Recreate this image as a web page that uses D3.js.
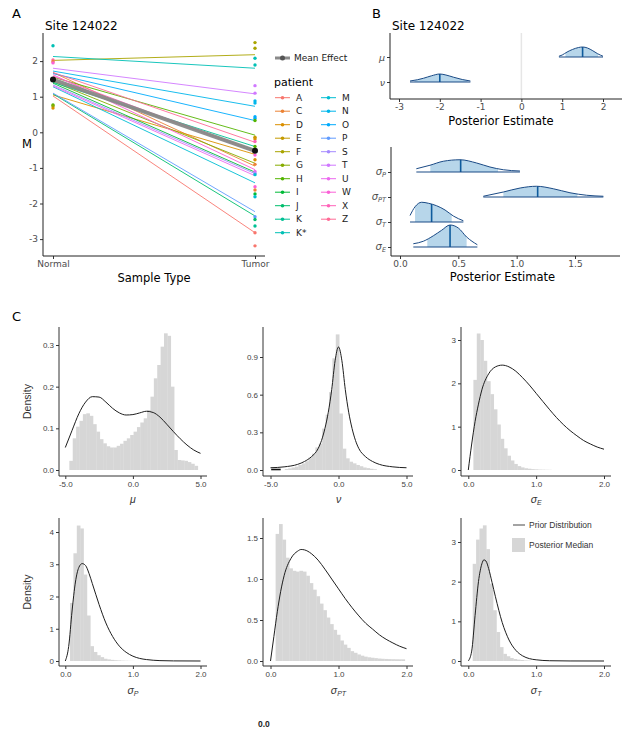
<!DOCTYPE html>
<html>
<head>
<meta charset="utf-8">
<script src="https://cdn.jsdelivr.net/npm/d3@7"></script>
<style>
body{margin:0;background:#fff;}
svg{display:block;}
text{font-family:"DejaVu Sans",Verdana,sans-serif;}
</style>
</head>
<body>
<svg id="fig" width="624" height="730"></svg>
<script>
// ---- Panel A data ----
const patients = ["A","C","D","E","F","G","H","I","J","K","K*","M","N","O","P","S","T","U","W","X","Z"];
const sampleTypes = ["Normal","Tumor"];
const fitNormal = [1.02,1.68,1.05,1.45,2.02,1.42,1.55,1.38,1.08,1.40,2.13,1.28,1.72,1.65,1.10,1.33,1.80,1.30,1.62,1.58,1.68];
const fitTumor  = [-2.82,-0.95,-0.62,-0.50,2.18,-0.87,-0.08,-1.12,-2.35,-0.40,1.80,-1.42,0.73,0.33,-2.23,-1.16,1.08,-1.22,-1.05,-0.55,-0.28];
const meanEffect = [1.48,-0.52];
const obsNormal = [["K*",2.43],["Z",2.03],["C",1.98],["W",1.95],["H",0.77],["G",0.74],["D",0.68]];
const obsTumor = [["F",2.52],["F",2.36],["K*",2.08],["K*",1.89],["T",1.31],["T",1.10],["N",0.88],["N",0.82],
  ["O",0.44],["O",0.39],["H",0.33],["E",-0.14],["D",-0.19],["X",-0.26],["H",-0.40],["W",-0.64],["D",-0.77],
  ["C",-0.90],["U",-1.10],["S",-1.15],["M",-1.19],["W",-1.53],["C",-1.62],["I",-1.73],["M",-1.81],
  ["P",-2.37],["J",-2.45],["K",-2.63],["A",-2.82],["A",-3.19]];
const aTicks = [-3,-2,-1,0,1,2];

// ---- Panel B data: [estimate, relative height] ----
const siteParams = ["μ","ν"];
const ridgeMu = [[0.92,0.03],[1.0,0.08],[1.12,0.2],[1.25,0.3],[1.4,0.38],[1.5,0.4],[1.62,0.36],[1.75,0.25],[1.87,0.13],[2.0,0.03]];
const ridgeNu = [[-2.73,0.04],[-2.55,0.09],[-2.4,0.15],[-2.2,0.25],[-2.0,0.32],[-1.85,0.28],[-1.66,0.19],[-1.45,0.1],[-1.25,0.04]];
const sigmaParams = ["P","PT","T","E"];
const ridgeSigP  = [[0.14,0.13],[0.257,0.27],[0.371,0.43],[0.514,0.49],[0.657,0.36],[0.771,0.2],[0.886,0.09],[1.028,0.04]];
const ridgeSigPT = [[0.714,0.03],[0.886,0.2],[1.03,0.36],[1.17,0.43],[1.314,0.33],[1.457,0.17],[1.6,0.07],[1.743,0.03]];
const ridgeSigT  = [[0.086,0.26],[0.129,0.61],[0.186,0.79],[0.243,0.75],[0.314,0.65],[0.386,0.48],[0.457,0.24],[0.543,0.05]];
const ridgeSigE  = [[0.114,0.13],[0.2,0.23],[0.286,0.45],[0.357,0.67],[0.429,0.88],[0.5,0.76],[0.571,0.4],[0.663,0.09]];
const ridgeIntervals = {mu:[1.08,1.88], nu:[-2.62,-1.32], P:[0.26,0.84], PT:[0.886,1.52], T:[0.129,0.443], E:[0.234,0.571]};
const ridgeMedians = {mu:1.5, nu:-2.0, P:0.52, PT:1.18, T:0.271, E:0.429};
const bTopTicks = [-3,-2,-1,0,1,2];
const bBotTicks = [0,0.5,1,1.5];

// ---- Panel C data ----
const muHistStart = -4.7, muHistWidth = 0.25;
const muHist = [0.022,0.076,0.104,0.118,0.134,0.136,0.13,0.11,0.092,0.074,0.064,0.057,0.054,0.054,0.058,0.063,0.07,0.076,0.084,0.092,0.103,0.114,0.124,0.144,0.176,0.22,0.252,0.296,0.328,0.322,0.2,0.048,0.024,0.023,0.022,0.019,0.015,0.01];
const muPrior = [[-5,0.054],[-4.5,0.095],[-4,0.135],[-3.5,0.163],[-3,0.176],[-2.5,0.175],[-2,0.163],[-1.5,0.148],[-1,0.137],[-0.5,0.132],[0,0.133],[0.5,0.137],[1,0.141],[1.5,0.138],[2,0.127],[2.5,0.11],[3,0.092],[3.5,0.075],[4,0.06],[4.5,0.048],[5,0.04]];
const nuHistStart = -3.95, nuHistWidth = 0.25;
const nuHist = [0.008,0.013,0.02,0.027,0.04,0.053,0.07,0.1,0.13,0.18,0.21,0.33,0.44,0.62,0.89,1.08,0.45,0.17,0.093,0.066,0.053,0.04,0.03,0.02,0.015,0.01,0.006];
const nuPrior = [[-5,0.018],[-4,0.025],[-3,0.045],[-2.5,0.068],[-2,0.105],[-1.5,0.17],[-1.25,0.235],[-1,0.33],[-0.75,0.46],[-0.5,0.64],[-0.25,0.87],[0,0.98],[0.25,0.87],[0.5,0.64],[0.75,0.46],[1,0.33],[1.25,0.235],[1.5,0.17],[2,0.105],[2.5,0.068],[3,0.045],[4,0.025],[5,0.018]];
const nuDash = [[-4.95,0.004],[-4.25,0.004]];
const sigEHistStart = 0.075, sigEHistWidth = 0.05;
const sigEHist = [2.08,3.15,3.0,2.52,2.05,1.75,1.4,1.05,0.72,0.5,0.33,0.22,0.14,0.09,0.06,0.04,0.03,0.02,0.015,0.01,0.008,0.006,0.004];
const sigEPrior = [[0,0],[0.05,0.6],[0.1,1.12],[0.15,1.52],[0.2,1.85],[0.3,2.22],[0.4,2.38],[0.5,2.42],[0.6,2.38],[0.7,2.28],[0.8,2.13],[0.9,1.96],[1.0,1.77],[1.1,1.58],[1.2,1.39],[1.3,1.21],[1.4,1.05],[1.5,0.91],[1.6,0.79],[1.7,0.68],[1.8,0.6],[1.9,0.53],[2.0,0.48]];
const sigPHistStart = 0.07, sigPHistWidth = 0.05;
const sigPHist = [1.8,3.34,4.2,4.11,2.68,1.41,0.46,0.28,0.18,0.12,0.07,0.05,0.035,0.025,0.018,0.012,0.008,0.005,0.003];
const sigPPrior = [[0,0],[0.05,0.45],[0.1,1.55],[0.15,2.45],[0.2,2.9],[0.25,3.02],[0.3,2.96],[0.35,2.72],[0.4,2.4],[0.5,1.75],[0.6,1.18],[0.7,0.76],[0.8,0.46],[0.9,0.27],[1.0,0.15],[1.1,0.08],[1.2,0.045],[1.4,0.012],[1.6,0.003],[2.0,0]];
const sigPTHistStart = 0.075, sigPTHistWidth = 0.05;
const sigPTHist = [1.55,1.67,1.48,1.26,1.13,1.1,1.09,1.1,1.09,1.04,0.95,0.87,0.79,0.7,0.62,0.53,0.45,0.38,0.32,0.25,0.2,0.16,0.12,0.1,0.08,0.065,0.053,0.045,0.04,0.035,0.03,0.027,0.025,0.023,0.022,0.021,0.02,0.02];
const sigPTPrior = [[0,0],[0.05,0.3],[0.1,0.6],[0.15,0.85],[0.2,1.04],[0.3,1.25],[0.4,1.34],[0.45,1.36],[0.5,1.355],[0.6,1.31],[0.7,1.23],[0.8,1.12],[0.9,1.0],[1.0,0.88],[1.1,0.76],[1.2,0.65],[1.3,0.55],[1.4,0.46],[1.5,0.39],[1.6,0.32],[1.7,0.265],[1.8,0.22],[1.9,0.18],[2.0,0.15]];
const sigTHistStart = 0.065, sigTHistWidth = 0.05;
const sigTHist = [2.45,3.06,3.34,3.42,2.82,1.95,1.28,0.73,0.35,0.18,0.12,0.075,0.05,0.035,0.025,0.015,0.01];
const sigTPrior = [[0,0],[0.05,0.25],[0.1,1.15],[0.15,2.0],[0.2,2.45],[0.23,2.55],[0.26,2.52],[0.3,2.33],[0.35,1.98],[0.4,1.62],[0.5,0.97],[0.6,0.53],[0.7,0.27],[0.8,0.13],[0.9,0.06],[1.0,0.03],[1.2,0.007],[1.5,0.001],[2.0,0]];

// ggplot hue_pal colours (polarLUV -> sRGB)
function hueColor(i, n){
  const h = (15 + 360*i/n) * Math.PI/180, L = 65, C = 100;
  const U = C*Math.cos(h), V = C*Math.sin(h);
  const Xn = 95.047, Yn = 100, Zn = 108.883;
  const Y = Yn * Math.pow((L+16)/116, 3);
  const den = Xn + 15*Yn + 3*Zn;
  const up = U/(13*L) + 4*Xn/den, vp = V/(13*L) + 9*Yn/den;
  const X = Y*9*up/(4*vp), Z = Y*(12 - 3*up - 20*vp)/(4*vp);
  const x = X/100, y = Y/100, z = Z/100;
  const r = 3.240479*x - 1.537150*y - 0.498535*z;
  const g = -0.969256*x + 1.875992*y + 0.041556*z;
  const b = 0.055648*x - 0.204043*y + 1.057311*z;
  const gam = v => { v = Math.max(0, Math.min(1, v)); return v <= 0.0031308 ? 12.92*v : 1.055*Math.pow(v,1/2.4) - 0.055; };
  return d3.rgb(gam(r)*255, gam(g)*255, gam(b)*255).formatHex();
}
const pColor = d3.scaleOrdinal().domain(patients).range(patients.map((p,i) => hueColor(i, patients.length)));

const svg = d3.select("#fig");
const fmtNum = d => String(d);

function styleTicks(sel, size, family, fill){
  sel.select(".domain").remove();
  sel.selectAll(".tick line").attr("stroke","#333");
  sel.selectAll(".tick text").attr("fill", fill || "#4d4d4d").style("font-size", size).style("font-family", family || null);
  sel.attr("font-family", null).attr("font-size", null);
}
function axisLine(g, x1, y1, x2, y2, col){
  g.append("line").attr("x1",x1).attr("y1",y1).attr("x2",x2).attr("y2",y2)
    .attr("stroke", col || "#222").attr("stroke-width",1);
}

// =================== Panel A ===================
const gA = svg.append("g");
gA.append("text").attr("x",12).attr("y",18).style("font-size","13px").text("A");
gA.append("text").attr("x",45).attr("y",30).style("font-size","12px").text("Site 124022");

const xA = d3.scalePoint().domain(sampleTypes).range([53,255]);
const yA = d3.scaleLinear().domain([-3,2]).range([239.1,61.1]);

gA.append("g").attr("transform","translate(43,0)")
  .call(d3.axisLeft(yA).tickValues(aTicks).tickSize(3).tickPadding(2).tickFormat(fmtNum))
  .call(s => styleTicks(s,"9px"));
gA.append("g").attr("transform","translate(0,256)")
  .call(d3.axisBottom(xA).tickSize(3).tickPadding(2))
  .call(s => styleTicks(s,"9px"));
axisLine(gA,43,33,43,256);
axisLine(gA,43,256,265,256);
gA.append("text").attr("x",154).attr("y",282).attr("text-anchor","middle").style("font-size","11.5px").text("Sample Type");
gA.append("text").attr("x",22).attr("y",148).style("font-size","11.5px").text("M");

patients.forEach((p,i) => {
  gA.append("line")
    .attr("x1", xA("Normal")).attr("y1", yA(fitNormal[i]))
    .attr("x2", xA("Tumor")).attr("y2", yA(fitTumor[i]))
    .attr("stroke", pColor(p)).attr("stroke-width", 0.9);
});
gA.append("line")
  .attr("x1", xA("Normal")).attr("y1", yA(meanEffect[0]))
  .attr("x2", xA("Tumor")).attr("y2", yA(meanEffect[1]))
  .attr("stroke", "#8a8a8a").attr("stroke-width", 4).attr("opacity",0.95);
gA.selectAll(".pn").data(obsNormal).join("circle")
  .attr("cx", xA("Normal")).attr("cy", d => yA(d[1])).attr("r",1.7).attr("fill", d => pColor(d[0]));
gA.selectAll(".pt").data(obsTumor).join("circle")
  .attr("cx", xA("Tumor")).attr("cy", d => yA(d[1])).attr("r",1.7).attr("fill", d => pColor(d[0]));
gA.selectAll(".pm").data(meanEffect).join("circle")
  .attr("cx", (d,i) => xA(sampleTypes[i])).attr("cy", d => yA(d)).attr("r",3).attr("fill","#111");

// legend A
const lg = gA.append("g");
lg.append("line").attr("x1",275).attr("x2",290).attr("y1",58).attr("y2",58).attr("stroke","#8a8a8a").attr("stroke-width",3);
lg.append("circle").attr("cx",282.5).attr("cy",58).attr("r",2.5).attr("fill","#555");
lg.append("text").attr("x",294).attr("y",58).attr("dy","0.35em").style("font-size","9px").attr("fill","#222").text("Mean Effect");
lg.append("text").attr("x",274).attr("y",86).style("font-size","11px").text("patient");
patients.forEach((p,i) => {
  const col = i < 11 ? 0 : 1, row = i % 11;
  const kx = col ? 321 : 275, ky = 97.7 + row*13.5;
  lg.append("line").attr("x1",kx).attr("x2",kx+15).attr("y1",ky).attr("y2",ky).attr("stroke",pColor(p)).attr("stroke-width",1);
  lg.append("circle").attr("cx",kx+7.5).attr("cy",ky).attr("r",1.8).attr("fill",pColor(p));
  lg.append("text").attr("x",kx+21).attr("y",ky).attr("dy","0.35em").style("font-size","9px").attr("fill","#222").text(p);
});

// =================== Panel B ===================
const gB = svg.append("g");
gB.append("text").attr("x",372).attr("y",18).style("font-size","13px").text("B");
gB.append("text").attr("x",392).attr("y",30).style("font-size","12px").text("Site 124022");

const ridgeFill = "#b7d6ea", ridgeLine = "#1a4a85", ridgeMed = "#0e5b9c";
let clipId = 0;
function drawRidge(g, x, baseY, bandH, pts, interval, median){
  const id = "rclip" + (clipId++);
  const area = d3.area().x(d => x(d[0])).y0(baseY).y1(d => baseY - d[1]*bandH).curve(d3.curveMonotoneX);
  const line = d3.line().x(d => x(d[0])).y(d => baseY - d[1]*bandH).curve(d3.curveMonotoneX);
  g.append("clipPath").attr("id", id).append("path").attr("d", area(pts));
  g.append("rect").attr("x", x(interval[0])).attr("width", x(interval[1]) - x(interval[0]))
    .attr("y", baseY - bandH).attr("height", bandH).attr("fill", ridgeFill).attr("clip-path", `url(#${id})`);
  g.append("line").attr("x1", x(median)).attr("x2", x(median)).attr("y1", baseY).attr("y2", baseY - bandH)
    .attr("stroke", ridgeMed).attr("stroke-width", 1.6).attr("clip-path", `url(#${id})`);
  g.append("path").attr("d", line(pts)).attr("fill","none").attr("stroke", ridgeLine).attr("stroke-width",1);
  g.append("line").attr("x1", x(pts[0][0])).attr("x2", x(pts[pts.length-1][0])).attr("y1", baseY).attr("y2", baseY)
    .attr("stroke", ridgeLine).attr("stroke-width",1.2);
}

// top: site level
const xBt = d3.scaleLinear().domain([-3,2]).range([399,603]);
const yBt = d3.scalePoint().domain(siteParams).range([57,82]);
gB.append("line").attr("x1",xBt(0)).attr("x2",xBt(0)).attr("y1",33).attr("y2",99).attr("stroke","#e6e6e6").attr("stroke-width",1.5);
gB.append("g").attr("transform","translate(0,99)")
  .call(d3.axisBottom(xBt).tickValues(bTopTicks).tickSize(3).tickPadding(2).tickFormat(fmtNum))
  .call(s => styleTicks(s,"9px"));
gB.append("g").attr("transform","translate(390,0)")
  .call(d3.axisLeft(yBt).tickSize(3).tickPadding(2))
  .call(s => styleTicks(s,"9.5px"))
  .selectAll(".tick text").style("font-style","italic");
axisLine(gB,390,33,390,99);
axisLine(gB,390,99,622,99);
drawRidge(gB, xBt, yBt("μ"), 25, ridgeMu, ridgeIntervals.mu, ridgeMedians.mu);
drawRidge(gB, xBt, yBt("ν"), 25, ridgeNu, ridgeIntervals.nu, ridgeMedians.nu);
gB.append("text").attr("x",(390+622)/2 - 5).attr("y",125).attr("text-anchor","middle").style("font-size","11.5px").text("Posterior Estimate");

// bottom: variance components
const xBb = d3.scaleLinear().domain([0,1.5]).range([400,575]);
const yBb = d3.scalePoint().domain(sigmaParams).range([172,247]);
gB.append("g").attr("transform","translate(0,256)")
  .call(d3.axisBottom(xBb).tickValues(bBotTicks).tickSize(3).tickPadding(2).tickFormat(d => d.toFixed(1)))
  .call(s => styleTicks(s,"9px"));
const yAxB = gB.append("g").attr("transform","translate(391,0)")
  .call(d3.axisLeft(yBb).tickSize(3).tickPadding(2).tickFormat(""))
  .call(s => styleTicks(s,"9px"));
yAxB.selectAll(".tick text").each(function(d){
  const t = d3.select(this).attr("fill","#4d4d4d").style("font-style","italic");
  t.append("tspan").style("font-size","10px").text("σ");
  t.append("tspan").style("font-size","6.5px").attr("dy","0.3em").text(d);
});
axisLine(gB,391,147,391,256);
axisLine(gB,391,256,620,256);
const ridgeByKey = {P: ridgeSigP, PT: ridgeSigPT, T: ridgeSigT, E: ridgeSigE};
sigmaParams.forEach(k => drawRidge(gB, xBb, yBb(k), 25, ridgeByKey[k], ridgeIntervals[k], ridgeMedians[k]));
gB.append("text").attr("x",(391+620)/2 - 3).attr("y",281).attr("text-anchor","middle").style("font-size","11.5px").text("Posterior Estimate");

// =================== Panel C ===================
const gC = svg.append("g");
gC.append("text").attr("x",12).attr("y",321).style("font-size","13px").text("C");

const cFont = '"Liberation Sans",Arial,sans-serif';
const cols = [{axisX:59, r0:65.3, r1:200.5, end:207}, {axisX:263, r0:270.5, r1:406.5, end:413}, {axisX:461, r0:468.3, r1:604, end:611}];
const rows = [{top:327, axisY:476, zero:470, labelY:503}, {top:518, axisY:666, zero:661, labelY:694}];
const cPlots = [
  {col:0,row:0, hist:muHist, start:muHistStart, bw:muHistWidth, prior:muPrior, xDom:[-5,5], xTicks:[-5,0,5], yTop:0.3, yTopPx:345, yTicks:[0,0.1,0.2,0.3], yFmt:d=>d.toFixed(1), label:"μ", sub:null, ylab:true},
  {col:1,row:0, hist:nuHist, start:nuHistStart, bw:nuHistWidth, prior:nuPrior, xDom:[-5,5], xTicks:[-5,0,5], yTop:0.9, yTopPx:357, yTicks:[0,0.3,0.6,0.9], yFmt:d=>d.toFixed(1), label:"ν", sub:null, dash:nuDash},
  {col:2,row:0, hist:sigEHist, start:sigEHistStart, bw:sigEHistWidth, prior:sigEPrior, xDom:[0,2], xTicks:[0,1,2], yTop:3, yTopPx:340, yTicks:[0,1,2,3], yFmt:fmtNum, label:"σ", sub:"E"},
  {col:0,row:1, hist:sigPHist, start:sigPHistStart, bw:sigPHistWidth, prior:sigPPrior, xDom:[0,2], xTicks:[0,1,2], yTop:4, yTopPx:532, yTicks:[0,1,2,3,4], yFmt:fmtNum, label:"σ", sub:"P", ylab:true},
  {col:1,row:1, hist:sigPTHist, start:sigPTHistStart, bw:sigPTHistWidth, prior:sigPTPrior, xDom:[0,2], xTicks:[0,1,2], yTop:1.5, yTopPx:538, yTicks:[0,0.5,1,1.5], yFmt:d=>d.toFixed(1), label:"σ", sub:"PT"},
  {col:2,row:1, hist:sigTHist, start:sigTHistStart, bw:sigTHistWidth, prior:sigTPrior, xDom:[0,2], xTicks:[0,1,2], yTop:3, yTopPx:542, yTicks:[0,1,2,3], yFmt:fmtNum, label:"σ", sub:"T", legend:true}
];

cPlots.forEach(cfg => {
  const c = cols[cfg.col], r = rows[cfg.row];
  const g = gC.append("g");
  const x = d3.scaleLinear().domain(cfg.xDom).range([c.r0, c.r1]);
  const y = d3.scaleLinear().domain([0, cfg.yTop]).range([r.zero, cfg.yTopPx]);
  g.selectAll("rect").data(cfg.hist).join("rect")
    .attr("x", (d,i) => x(cfg.start + i*cfg.bw))
    .attr("width", (d,i) => x(cfg.start + (i+1)*cfg.bw) - x(cfg.start + i*cfg.bw) + 0.3)
    .attr("y", d => y(d)).attr("height", d => y(0) - y(d))
    .attr("fill", "#d6d6d6");
  const line = d3.line().x(d => x(d[0])).y(d => y(d[1])).curve(d3.curveMonotoneX);
  g.append("path").attr("d", line(cfg.prior)).attr("fill","none").attr("stroke","#1e1e1e").attr("stroke-width",1);
  if (cfg.dash) g.append("path").attr("d", line(cfg.dash)).attr("stroke","#111").attr("stroke-width",1.6);

  g.append("g").attr("transform",`translate(${c.axisX},0)`)
    .call(d3.axisLeft(y).tickValues(cfg.yTicks).tickSize(3).tickPadding(2).tickFormat(cfg.yFmt))
    .call(s => styleTicks(s,"8px",cFont,"#444"));
  g.append("g").attr("transform",`translate(0,${r.axisY})`)
    .call(d3.axisBottom(x).tickValues(cfg.xTicks).tickSize(3).tickPadding(2).tickFormat(d => d.toFixed(1)))
    .call(s => styleTicks(s,"8px",cFont,"#444"));
  axisLine(g, c.axisX, r.top, c.axisX, r.axisY, "#333");
  axisLine(g, c.axisX, r.axisY, c.end, r.axisY, "#333");

  const xl = g.append("text").attr("x",(c.r0+c.r1)/2).attr("y",r.labelY).attr("text-anchor","middle")
    .attr("fill","#333").style("font-family",cFont).style("font-style","italic");
  xl.append("tspan").style("font-size","10.5px").text(cfg.label);
  if (cfg.sub) xl.append("tspan").style("font-size","7px").attr("dy","0.3em").text(cfg.sub);
  if (cfg.ylab) {
    g.append("text").attr("transform",`translate(31,${(r.top+r.axisY)/2}) rotate(-90)`).attr("text-anchor","middle")
      .attr("fill","#333").style("font-family",cFont).style("font-size","10.5px").text("Density");
  }
  if (cfg.legend) {
    g.append("line").attr("x1",513).attr("x2",525).attr("y1",525).attr("y2",525).attr("stroke","#666").attr("stroke-width",1.2);
    g.append("text").attr("x",529).attr("y",525).attr("dy","0.35em").attr("fill","#333").style("font-family",cFont).style("font-size","8.5px").text("Prior Distribution");
    g.append("rect").attr("x",512).attr("y",538).attr("width",13).attr("height",14).attr("fill","#d6d6d6");
    g.append("text").attr("x",529).attr("y",545).attr("dy","0.35em").attr("fill","#333").style("font-family",cFont).style("font-size","8.5px").text("Posterior Median");
  }
});

svg.append("text").attr("x",258).attr("y",727).style("font-family",cFont).style("font-size","8.5px")
  .style("font-weight","bold").attr("fill","#222").text("0.0");
</script>
</body>
</html>
